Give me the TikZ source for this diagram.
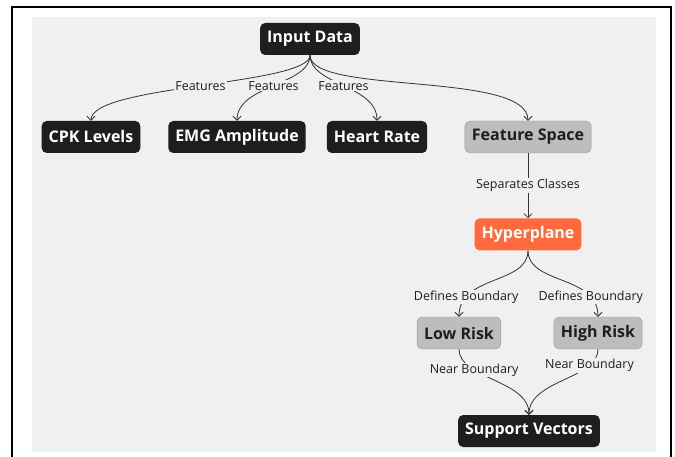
\documentclass[tikz,border=0pt]{standalone}
\usepackage{fontspec}
\setmainfont{Open Sans}
\usepackage{tikz}
\usetikzlibrary{arrows.meta,positioning}
\definecolor{canvas}{HTML}{F0F0F0}
\definecolor{inkdark}{HTML}{1E1E1E}
\definecolor{greyfill}{HTML}{BDBDBD}
\definecolor{greyline}{HTML}{9A9A9A}
\definecolor{hypercol}{HTML}{FF6A3D}
\definecolor{edgecol}{HTML}{333333}
\tikzset{
    box/.style={rounded corners=5pt, minimum height=32pt, inner xsep=7pt,
        font=\fontsize{16}{18}\selectfont\bfseries},
    dark/.style={box, fill=inkdark, text=white},
    grey/.style={box, fill=greyfill, draw=greyline, text=inkdark},
    accent/.style={box, fill=hypercol, text=white},
    edge/.style={-{Straight Barb[length=4pt, width=8pt]}, draw=edgecol, line width=0.8pt},
    lbl/.style={fill=canvas, inner sep=1pt, text=inkdark,
        font=\fontsize{12.5}{14}\selectfont}
}
\begin{document}
\begin{tikzpicture}[x=1pt, y=-1pt]
    \useasboundingbox (0,0) rectangle (675,457);
    \draw[line width=2.5pt] (12,7) rectangle (671,475);
    \fill[canvas] (32,17) rectangle (656,452);

    \node[dark] (input) at (310,39) {Input Data};
    \node[dark] (cpk) at (91,137) {CPK Levels};
    \node[dark] (emg) at (237,137) {EMG Amplitude};
    \node[dark] (heart) at (377,137) {Heart Rate};
    \node[grey] (fspace) at (528,137) {Feature Space};
    \node[accent, below=65pt of fspace] (hyper) {Hyperplane};
    \node[grey] (low) at (459,333) {Low Risk};
    \node[grey] (high) at (598,333) {High Risk};
    \node[dark] (support) at (529,431) {Support Vectors};

    \draw[edge] (input.south) .. controls +(0,30) and +(0,-36) .. (cpk.north)
        node[lbl, pos=0.5] {Features};
    \draw[edge] (input.south) .. controls +(0,30) and +(0,-36) .. (emg.north)
        node[lbl, pos=0.5] {Features};
    \draw[edge] (input.south) .. controls +(0,30) and +(0,-36) .. (heart.north)
        node[lbl, pos=0.5] {Features};
    \draw[edge] (input.south) .. controls +(0,40) and +(0,-50) .. (fspace.north);
    \draw[edge] (fspace) -- (hyper) node[lbl, midway] {Separates Classes};
    \draw[edge] (hyper.south) .. controls +(0,34) and +(0,-42) .. (low.north)
        node[lbl, pos=0.8] {Defines Boundary};
    \draw[edge] (hyper.south) .. controls +(0,34) and +(0,-42) .. (high.north)
        node[lbl, pos=0.8] {Defines Boundary};
    \draw[edge] (low.south) .. controls +(0,30) and +(0,-35) .. (support.north)
        node[lbl, pos=0.3] {Near Boundary};
    \draw[edge] (high.south) .. controls +(0,30) and +(0,-35) .. (support.north)
        node[lbl, pos=0.22] {Near Boundary};
\end{tikzpicture}
\end{document}
